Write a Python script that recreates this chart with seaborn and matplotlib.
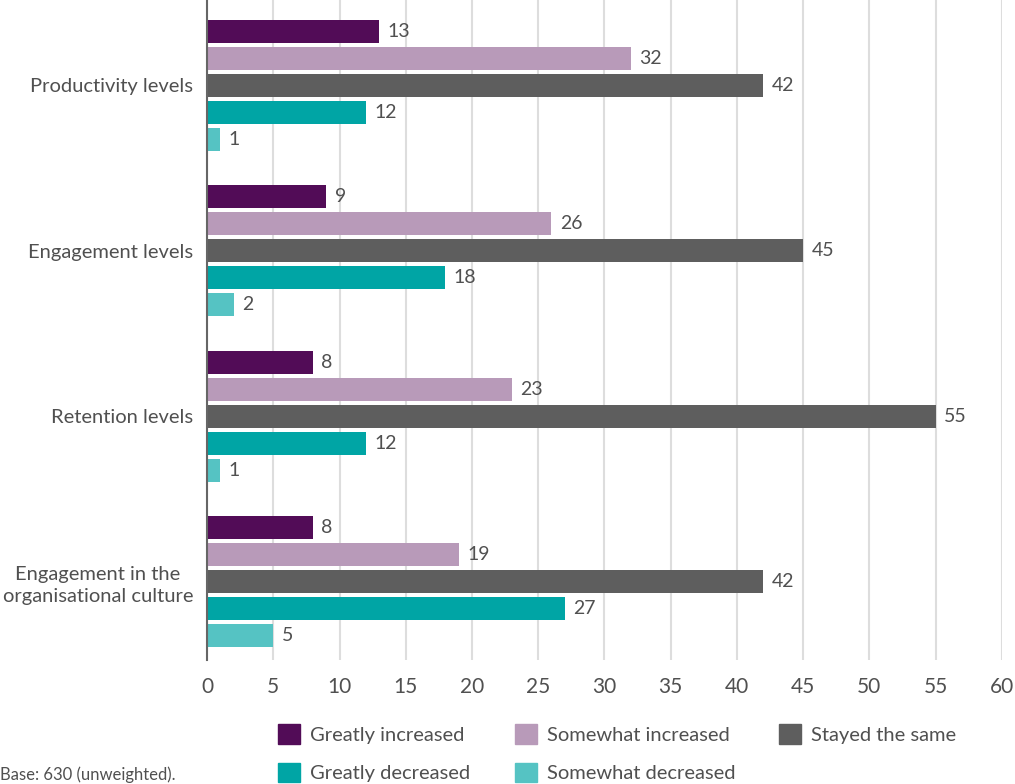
import pandas as pd
import seaborn as sns
import numpy as np
import matplotlib.pyplot as plt
from matplotlib.patches import Patch

categories = ['Productivity levels', 'Engagement levels', 'Retention levels',
              'Engagement in the\norganisational culture']
responses = ['Greatly increased', 'Somewhat increased', 'Stayed the same',
             'Greatly decreased', 'Somewhat decreased']
greatly_increased = [13, 9, 8, 8]
somewhat_increased = [32, 26, 23, 19]
stayed_same = [42, 45, 55, 42]
greatly_decreased = [12, 18, 12, 27]
somewhat_decreased = [1, 2, 1, 5]
colors = ['#520c57', '#b89ab9', '#5e5e5e', '#00a5a5', '#55c3c3']

series = [greatly_increased, somewhat_increased, stayed_same, greatly_decreased, somewhat_decreased]
rows = []
for resp, vals in zip(responses, series):
    for cat, v in zip(categories, vals):
        rows.append({'category': cat, 'response': resp, 'value': v})
df = pd.DataFrame(rows)

sns.set_theme(style="white")
plt.rcParams['font.family'] = ['Lato', 'DejaVu Sans']
txt = '#505050'

fig = plt.figure(figsize=(10.15, 7.84), dpi=100)
ax = fig.add_axes([0.204, 0.158, 0.783, 0.842])
sns.barplot(data=df, y='category', x='value', hue='response', orient='h',
            palette=colors, width=0.816, gap=0.15, saturation=1, linewidth=0,
            legend=False, ax=ax)

for c in ax.containers:
    ax.bar_label(c, padding=6, fontsize=14, color=txt)

ax.set_xlim(0, 60)
ax.set_ylim(3.474, -0.514)
ax.set_xticks(np.arange(0, 61, 5))
ax.xaxis.grid(True, color='#dddddd', linewidth=1.5)
ax.set_axisbelow(True)
for s in ['top', 'right', 'bottom']:
    ax.spines[s].set_visible(False)
ax.spines['left'].set_color('#666666')
ax.spines['left'].set_linewidth(1.5)
ax.tick_params(axis='x', labelsize=15, colors=txt, length=0, pad=12)
ax.tick_params(axis='y', labelsize=14.5, colors=txt, length=0, pad=10)
for t in ax.get_yticklabels():
    t.set_horizontalalignment('right')
    t.set_multialignment('center')
    t.set_linespacing(1.35)
ax.set_xlabel(None)
ax.set_ylabel(None)

handles = [Patch(color=c) for c in colors]
order = [0, 3, 1, 4, 2]
fig.legend([handles[i] for i in order], [responses[i] for i in order],
           loc='upper left', bbox_to_anchor=(0.274, 0.076), ncol=3, frameon=False,
           fontsize=14.5, labelcolor=txt, handlelength=1.09, handleheight=1.09,
           columnspacing=2.2, handletextpad=0.5, labelspacing=0.95,
           borderaxespad=0, borderpad=0)

fig.text(0.0, 0.0115, 'Base: 630 (unweighted).', fontsize=12, color=txt, va='center')

plt.savefig('out.png', dpi=100)
